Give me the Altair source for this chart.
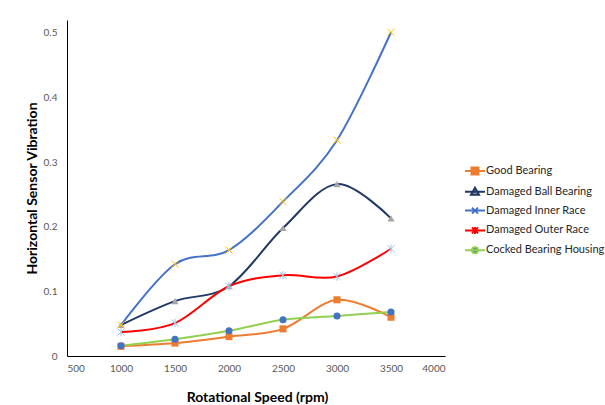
import altair as alt
import pandas as pd

speeds = [1000, 1500, 2000, 2500, 3000, 3500]
series_names = ["Good Bearing", "Damaged Ball Bearing", "Damaged Inner Race",
                "Damaged Outer Race", "Cocked Bearing Housing"]
good = [0.015, 0.020, 0.030, 0.042, 0.087, 0.060]
ball = [0.048, 0.085, 0.108, 0.198, 0.266, 0.213]
inner = [0.048, 0.142, 0.164, 0.239, 0.334, 0.501]
outer = [0.037, 0.051, 0.108, 0.125, 0.123, 0.166]
cocked = [0.016, 0.026, 0.039, 0.056, 0.062, 0.068]
x_ticks = [500, 1000, 1500, 2000, 2500, 3000, 3500, 4000]
y_ticks = [0, 0.1, 0.2, 0.3, 0.4, 0.5]

rows = []
for name, vals in zip(series_names, [good, ball, inner, outer, cocked]):
    for s, v in zip(speeds, vals):
        rows.append({"series": name, "speed": s, "value": v})
df = pd.DataFrame(rows)

line_colors = ["#ED7D31", "#1F3864", "#4472C4", "#FF0000", "#92D050"]

FONT = "Lato"

shape_expr = (
    "datum.value === 'Good Bearing' ? 'M-2,0H2M-0.7,-0.7H0.7V0.7H-0.7Z' : "
    "datum.value === 'Damaged Ball Bearing' ? 'M-2,0H2M0,-0.8L0.8,0.6H-0.8Z' : "
    "datum.value === 'Damaged Inner Race' ? 'M-2,0H2M-0.6,-0.6L0.6,0.6M0.6,-0.6L-0.6,0.6' : "
    "datum.value === 'Damaged Outer Race' ? 'M-2,0H2M-0.6,-0.6L0.6,0.6M0.6,-0.6L-0.6,0.6M0,-0.7V0.7' : "
    "'M-2,0H2M0.6,0A0.6,0.6,0,1,1,-0.6,0A0.6,0.6,0,1,1,0.6,0Z'"
)
fill_expr = (
    "datum.value === 'Good Bearing' ? '#ED7D31' : "
    "datum.value === 'Damaged Ball Bearing' ? '#A5A5A5' : "
    "datum.value === 'Cocked Bearing Housing' ? '#4472C4' : 'transparent'"
)

x_enc = alt.X("speed:Q", scale=alt.Scale(domain=[500, 4000], nice=False),
              axis=alt.Axis(values=x_ticks, format="d",
                            title="Rotational Speed (rpm)",
                            titleX=190, titleY=41, titleBaseline="middle",
                            titleAlign="center", labelPadding=7))
y_enc = alt.Y("value:Q", scale=alt.Scale(domain=[0, 0.52], nice=False),
              axis=alt.Axis(values=y_ticks, format=".1~f",
                            title="Horizontal Sensor Vibration",
                            titleX=-35, titleY=168, titleAngle=270,
                            titleAlign="center", titleBaseline="middle",
                            labelPadding=10))

lines = alt.Chart(df).mark_line(interpolate="cardinal", strokeWidth=2).encode(
    x=x_enc, y=y_enc,
    color=alt.Color("series:N",
                    scale=alt.Scale(domain=series_names, range=line_colors),
                    sort=series_names,
                    legend=alt.Legend(
                        title=None, orient="none", legendX=402, legendY=145,
                        symbolSize=100, symbolStrokeWidth=2, rowPadding=4.8,
                        labelOffset=5, labelFont=FONT, labelFontSize=11,
                        labelColor="#262626", padding=0,
                        symbolType=alt.ExprRef(expr=shape_expr),
                        symbolFillColor=alt.ExprRef(expr=fill_expr),
                        symbolOpacity=1)),
    detail="series:N",
)

filled_names = ["Good Bearing", "Damaged Ball Bearing", "Cocked Bearing Housing"]
filled_pts = alt.Chart(df).transform_filter(
    alt.FieldOneOfPredicate(field="series", oneOf=filled_names)
).mark_point(filled=True, opacity=1, size=50).encode(
    x="speed:Q", y="value:Q",
    color=alt.Color("series:N",
                    scale=alt.Scale(domain=filled_names,
                                    range=["#ED7D31", "#A5A5A5", "#4472C4"]),
                    legend=None),
    shape=alt.Shape("series:N",
                    scale=alt.Scale(domain=filled_names,
                                    range=["square", "triangle-up", "circle"]),
                    legend=None),
)

cross_names = ["Damaged Inner Race", "Damaged Outer Race"]
cross_pts = alt.Chart(df).transform_filter(
    alt.FieldOneOfPredicate(field="series", oneOf=cross_names)
).mark_point(filled=False, opacity=1, size=50, strokeWidth=1).encode(
    x="speed:Q", y="value:Q",
    color=alt.Color("series:N",
                    scale=alt.Scale(domain=cross_names,
                                    range=["#FFC000", "#9DC3E6"]),
                    legend=None),
    shape=alt.Shape("series:N",
                    scale=alt.Scale(domain=cross_names,
                                    range=["M-1,-1L1,1M1,-1L-1,1",
                                           "M-1,-1L1,1M1,-1L-1,1M0,-1.2V1.2"]),
                    legend=None),
)

chart = alt.layer(lines, filled_pts, cross_pts).resolve_scale(
    color="independent", shape="independent"
).properties(
    width=378, height=336,
    padding={"left": 67, "top": 20, "right": 160, "bottom": 49},
    autosize=alt.AutoSizeParams(type="none"),
    background="white",
).configure_view(stroke=None).configure_axis(
    grid=False, ticks=False, domainColor="#000000", domainWidth=1,
    labelFont=FONT, labelFontSize=10, labelColor="#595959",
    titleFont=FONT, titleFontSize=14, titleFontWeight="bold",
    titleColor="#000000",
)

chart.save("out.html", embed_options={"renderer": "svg", "actions": False})
